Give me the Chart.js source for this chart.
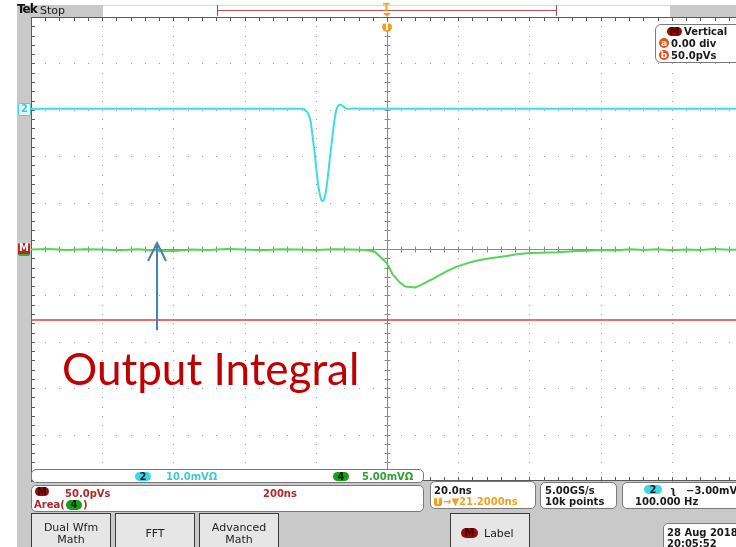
<!DOCTYPE html>
<html>
<head>
<meta charset="utf-8">
<script src="https://cdn.jsdelivr.net/npm/chart.js@4.4.0/dist/chart.umd.min.js"></script>
<style>
body { margin:0; width:736px; height:547px; overflow:hidden; position:relative; background:#fff; font-family:"DejaVu Sans", sans-serif; font-size:10px; font-weight:bold; color:#1a1a1a; }
#scope { position:absolute; left:0; top:0; }
.bg { position:absolute; background:#c9c9c9; }
.t { position:absolute; line-height:11px; white-space:nowrap; }
.box { position:absolute; background:#fff; border:1px solid #7a7a7a; border-radius:5px; box-sizing:border-box; }
.btn { position:absolute; background:#e6e6e6; border:1px solid #3a3a3a; border-bottom:none; box-sizing:border-box; text-align:center; color:#222; font-weight:normal; font-size:11px; }
.pill { position:absolute; border-radius:5px; font-size:10px; font-weight:bold; line-height:10px; text-align:center; }
.dot { position:absolute; width:10px; height:10px; border-radius:5px; background:#e8501a; color:#fff; font-size:9px; font-weight:bold; line-height:10px; text-align:center; }
</style>
</head>
<body>
<!-- grey frame behind the graticule -->
<div class="bg" style="left:17px;top:5px;width:14px;height:542px"></div>
<div class="bg" style="left:17px;top:481px;width:719px;height:66px"></div>
<div class="bg" style="left:17px;top:5px;width:86px;height:12px"></div>
<div class="bg" style="left:670px;top:5px;width:66px;height:12px"></div>
<div style="position:absolute;left:103px;top:5px;width:567px;height:0;border-top:1px solid #d8d8d8"></div>

<canvas id="scope" width="760" height="547"></canvas>

<!-- top bar -->
<div class="t" style="left:17px;top:4px;font-size:12px;letter-spacing:-1px;color:#111">Tek</div>
<div class="t" style="left:40px;top:5px;font-weight:normal;font-size:11px">Stop</div>
<div style="position:absolute;left:217px;top:10px;width:340px;height:0;border-top:1px solid #c05050"></div>
<div style="position:absolute;left:217px;top:5px;width:0;height:11px;border-left:1px solid #a05050"></div>
<div style="position:absolute;left:556px;top:5px;width:0;height:11px;border-left:1px solid #a05050"></div>
<div class="t" style="left:383px;top:2px;color:#f0a020;font-size:10px">T</div>
<div style="position:absolute;left:383px;top:13px;width:0;height:0;border-left:4px solid transparent;border-right:4px solid transparent;border-top:4px solid #f0a020"></div>
<div class="pill" style="left:382px;top:22px;width:10px;height:10px;background:#f0a020;color:#fff">T</div>

<!-- left markers -->
<div class="pill" style="left:18px;top:103px;width:11px;height:11px;border:1px solid #3ed8e0;background:#e8fbfc;color:#3ec8d0;border-radius:2px">2</div>
<div class="pill" style="left:18px;top:243px;width:12px;height:11px;background:#c02020;color:#fff;border-radius:2px;border-bottom:2px solid #30b030">M</div>

<!-- vertical readout -->
<div class="box" style="left:655px;top:24px;width:95px;height:39px;border-radius:6px"></div>
<div class="pill" style="left:667px;top:27px;width:15px;height:9px;background:#9a0a0a;color:#400">M</div>
<div class="t" style="left:684px;top:26px">Vertical</div>
<div class="dot" style="left:659px;top:38px">a</div>
<div class="t" style="left:671px;top:38px">0.00 div</div>
<div class="dot" style="left:659px;top:50px">b</div>
<div class="t" style="left:671px;top:50px">50.0pVs</div>

<!-- bottom readouts -->
<div class="box" style="left:31px;top:469px;width:393px;height:14px"></div>
<div class="pill" style="left:135px;top:472px;width:16px;height:9px;background:#3ed8e0;color:#123">2</div>
<div class="t" style="left:166px;top:471px;color:#3ec8d8">10.0mVΩ</div>
<div class="pill" style="left:333px;top:472px;width:16px;height:9px;background:#17a017;color:#021">4</div>
<div class="t" style="left:362px;top:471px;color:#30a030">5.00mVΩ</div>

<div class="box" style="left:31px;top:485px;width:393px;height:27px"></div>
<div class="pill" style="left:35px;top:487px;width:14px;height:9px;background:#9a0a0a;color:#400">M</div>
<div class="t" style="left:65px;top:488px;color:#b02828">50.0pVs</div>
<div class="t" style="left:34px;top:499px;color:#b02828">Area(</div>
<div class="pill" style="left:66px;top:500px;width:16px;height:10px;background:#17a017;color:#021">4</div>
<div class="t" style="left:83px;top:499px;color:#b02828">)</div>
<div class="t" style="left:263px;top:488px;color:#b02828">200ns</div>

<div class="box" style="left:430px;top:481px;width:106px;height:28px"></div>
<div class="t" style="left:434px;top:485px">20.0ns</div>
<div class="pill" style="left:434px;top:497px;width:8px;height:9px;background:#f0a020;color:#fff;border-radius:2px;font-size:8px">T</div>
<div class="t" style="left:443px;top:496px;color:#f0a020">→▼21.2000ns</div>

<div class="box" style="left:540px;top:482px;width:77px;height:27px"></div>
<div class="t" style="left:545px;top:485px">5.00GS/s</div>
<div class="t" style="left:545px;top:496px">10k points</div>

<div class="box" style="left:622px;top:482px;width:130px;height:27px"></div>
<div class="pill" style="left:644px;top:485px;width:18px;height:9px;background:#3ed8e0;color:#123">2</div>
<div class="t" style="left:670px;top:485px">ʅ</div>
<div class="t" style="left:686px;top:485px">−3.00mV</div>
<div class="t" style="left:635px;top:496px">100.000 Hz</div>

<!-- menu buttons -->
<div class="btn" style="left:31px;top:513px;width:80px;height:34px"><div class="t" style="left:0;width:78px;top:8px">Dual Wfm</div><div class="t" style="left:0;width:78px;top:20px">Math</div></div>
<div class="btn" style="left:115px;top:513px;width:80px;height:34px"><div class="t" style="left:0;width:78px;top:14px">FFT</div></div>
<div class="btn" style="left:199px;top:513px;width:80px;height:34px"><div class="t" style="left:0;width:78px;top:8px">Advanced</div><div class="t" style="left:0;width:78px;top:20px">Math</div></div>
<div class="btn" style="left:450px;top:513px;width:80px;height:34px"><div class="pill" style="left:10px;top:14px;width:17px;height:10px;background:#9a0a0a;color:#400">M</div><div class="t" style="left:33px;top:14px">Label</div></div>
<div class="box" style="left:663px;top:523px;width:90px;height:30px"></div>
<div class="t" style="left:667px;top:527px">28 Aug 2018</div>
<div class="t" style="left:667px;top:538px">20:05:52</div>

<div class="t" style="left:62px;top:346px;font-family:Lato,sans-serif;font-weight:normal;font-size:44px;line-height:44px;color:#c00000">Output Integral</div>

<script>
// horizontal: 20 ns/div, trigger in the centre
const nsPerDiv = 20;

// channel 2 (cyan), 10 mV/div, offset +3.02 div
const ch2Scale = 10;
const ch2Offset = 3.02;
const ch2Time = [-100, -60, -30, -23.6, -22.8, -22.0, -21.4, -20.8, -20.2, -19.7, -19.2, -18.7, -18.2, -17.7, -17.2, -16.7, -16.0, -15.2, -14.6, -14.0, -13.2, -12.4, -11.3, -9.0, -4.8, 20, 60, 100];
const ch2mV = [0, 0, 0, 0, -0.4, -1.3, -3.0, -6.6, -10.3, -14.0, -17.0, -19.0, -19.9, -19.5, -18.0, -15.2, -10.3, -5.1, -1.6, 0.3, 0.9, 0.6, 0, 0.1, 0, 0, 0, 0];

// channel 4 (green), 5 mV/div
const ch4Scale = 5;
const ch4Offset = -0.01;
const ch4Time = [-100, -95, -90, -85, -80, -75, -70, -65, -62, -58, -55, -50, -45, -40, -35, -30, -25, -20, -15, -10, -6, -3.4, -0.1, 1.7, 3.7, 5.1, 7.9, 9.5, 11.2, 13, 14.9, 17, 19.6, 22, 24.2, 26.5, 28.9, 31, 33.6, 36, 39.2, 43, 47.7, 52.2, 56, 59.7, 64, 68.3, 72, 76, 80, 84, 88, 92, 96, 100];
const ch4mV = [0, 0.05, -0.05, 0.03, 0, -0.08, 0.02, -0.1, -0.2, -0.1, 0, -0.05, 0.05, 0, -0.08, 0.03, 0, -0.05, 0.02, 0, -0.05, -0.24, -1.45, -2.75, -3.6, -4.0, -4.1, -3.85, -3.5, -3.15, -2.75, -2.3, -1.85, -1.55, -1.3, -1.1, -0.95, -0.85, -0.7, -0.55, -0.41, -0.35, -0.3, -0.19, -0.15, -0.05, -0.1, 0.02, -0.05, 0.03, -0.08, 0, -0.06, 0.04, -0.03, 0];

// math waveform Area(4), flat, in divisions
const mathTime = [-100, 100];
const mathDiv = [-1.53, -1.53];

// arrow annotation (ns, div)
const arrowT = -64.6;
const arrowFrom = -1.75;
const arrowTo = 0.13;

const scopeGrid = {
  id: 'scopeGrid',
  beforeDatasetsDraw(chart) {
    const { ctx, chartArea: a, scales: { x, y } } = chart;
    ctx.save();
    // dotted division lines
    ctx.fillStyle = '#9c9c9c';
    for (let i = -4; i <= 4; i++) {
      if (i === 0) continue;
      const px = Math.round(x.getPixelForValue(i * nsPerDiv));
      for (let j = -25; j <= 25; j++) {
        ctx.fillRect(px, Math.round(y.getPixelForValue(j / 5)), 1, 1);
      }
      const py = Math.round(y.getPixelForValue(i));
      for (let j = -25; j <= 25; j++) {
        ctx.fillRect(Math.round(x.getPixelForValue(j * nsPerDiv / 5)), py, 1, 1);
      }
    }
    // centre crosshair with minor ticks
    const cx = Math.round(x.getPixelForValue(0)) + 0.5;
    const cy = Math.round(y.getPixelForValue(0)) + 0.5;
    ctx.strokeStyle = '#8a8a8a';
    ctx.lineWidth = 1;
    ctx.beginPath();
    ctx.moveTo(cx, a.top); ctx.lineTo(cx, a.bottom);
    ctx.moveTo(a.left, cy); ctx.lineTo(a.right, cy);
    for (let j = -25; j <= 25; j++) {
      const ty = Math.round(y.getPixelForValue(j / 5)) + 0.5;
      ctx.moveTo(cx - 3, ty); ctx.lineTo(cx + 3, ty);
      const tx = Math.round(x.getPixelForValue(j * nsPerDiv / 5)) + 0.5;
      ctx.moveTo(tx, cy - 3); ctx.lineTo(tx, cy + 3);
    }
    ctx.stroke();
    // frame with edge ticks
    ctx.strokeStyle = '#5a5a5a';
    ctx.beginPath();
    ctx.moveTo(a.left + 0.5, a.top); ctx.lineTo(a.left + 0.5, a.bottom);
    ctx.moveTo(a.left, a.top + 0.5); ctx.lineTo(a.right, a.top + 0.5);
    ctx.moveTo(a.left, a.bottom - 0.5); ctx.lineTo(a.right, a.bottom - 0.5);
    for (let j = -25; j <= 25; j++) {
      const tx = Math.round(x.getPixelForValue(j * nsPerDiv / 5)) + 0.5;
      ctx.moveTo(tx, a.top); ctx.lineTo(tx, a.top + 4);
      ctx.moveTo(tx, a.bottom); ctx.lineTo(tx, a.bottom - 4);
      const ty = Math.round(y.getPixelForValue(j / 5)) + 0.5;
      ctx.moveTo(a.left, ty); ctx.lineTo(a.left + 4, ty);
    }
    ctx.stroke();
    ctx.restore();
  }
};

const arrowNote = {
  id: 'arrowNote',
  afterDatasetsDraw(chart) {
    const { ctx, scales: { x, y } } = chart;
    const ax = x.getPixelForValue(arrowT);
    const y0 = y.getPixelForValue(arrowFrom);
    const y1 = y.getPixelForValue(arrowTo);
    ctx.save();
    ctx.strokeStyle = '#4a7ebb';
    ctx.lineWidth = 2;
    ctx.beginPath();
    ctx.moveTo(ax, y0); ctx.lineTo(ax, y1);
    ctx.moveTo(ax - 9, y1 + 18); ctx.lineTo(ax, y1); ctx.lineTo(ax + 9, y1 + 18);
    ctx.stroke();
    ctx.restore();
  }
};

new Chart(document.getElementById('scope'), {
  type: 'line',
  data: {
    datasets: [
      {
        label: 'Math',
        data: mathTime.map((t, i) => ({ x: t, y: mathDiv[i] })),
        borderColor: '#e23a3a',
        borderWidth: 1.5
      },
      {
        label: 'Ch4',
        data: ch4Time.map((t, i) => ({ x: t, y: ch4Offset + ch4mV[i] / ch4Scale })),
        borderColor: '#55d455',
        borderWidth: 2
      },
      {
        label: 'Ch2',
        data: ch2Time.map((t, i) => ({ x: t, y: ch2Offset + ch2mV[i] / ch2Scale })),
        borderColor: '#3fdede',
        borderWidth: 2,
        cubicInterpolationMode: 'monotone'
      }
    ]
  },
  options: {
    responsive: false,
    animation: false,
    layout: { padding: { left: 31, top: 17, right: 17, bottom: 66 } },
    elements: { point: { radius: 0 } },
    plugins: { legend: { display: false }, tooltip: { enabled: false } },
    scales: {
      x: { type: 'linear', min: -5 * nsPerDiv, max: 5 * nsPerDiv, display: false },
      y: { type: 'linear', min: -5, max: 5, display: false }
    }
  },
  plugins: [scopeGrid, arrowNote]
});
</script>
</body>
</html>
